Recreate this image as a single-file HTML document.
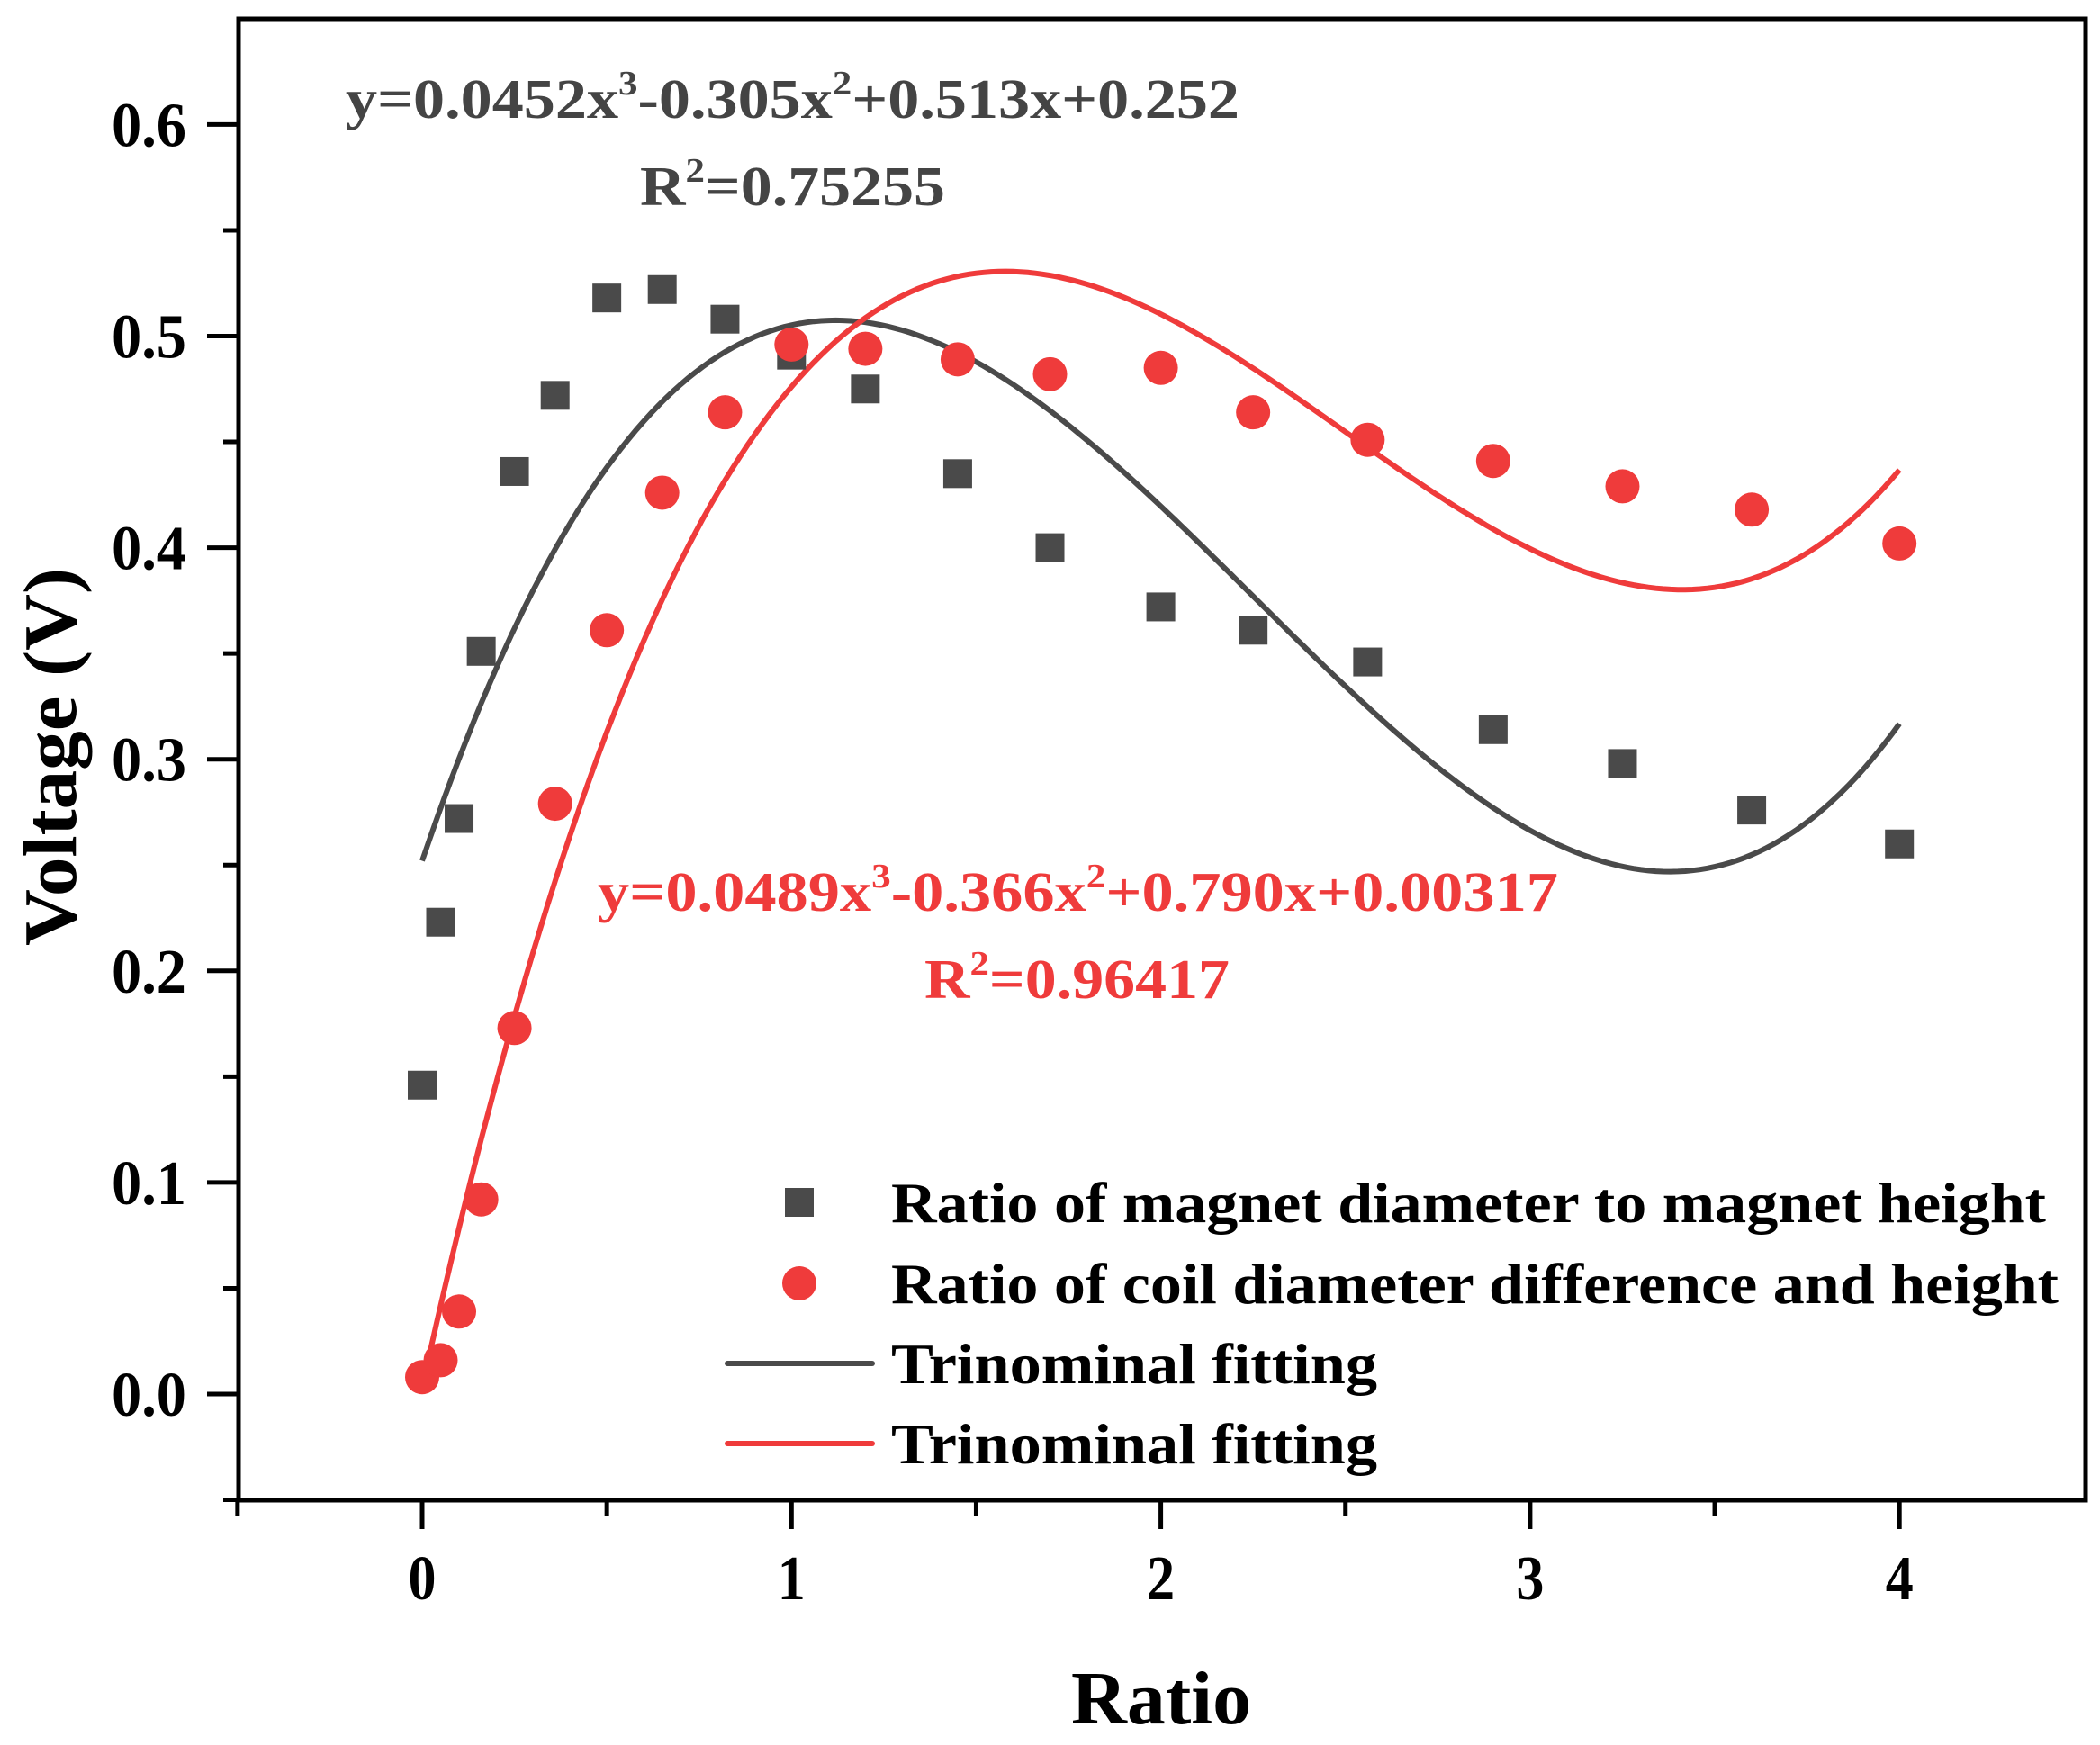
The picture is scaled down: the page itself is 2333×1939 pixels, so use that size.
<!DOCTYPE html>
<html><head><meta charset="utf-8"><style>
html,body{margin:0;padding:0;background:#fff;}
svg{display:block;font-family:"Liberation Serif",serif;font-weight:bold;}
</style></head><body>
<svg id="chart" width="2333" height="1939" viewBox="0 0 2333 1939" xmlns="http://www.w3.org/2000/svg">
<rect x="0" y="0" width="2333" height="1939" fill="#fff"/>
<g id="grid"></g>
<g id="curves"></g>
<g id="marks"></g>
<rect x="265" y="21" width="2052" height="1646" fill="none" stroke="#000" stroke-width="5"/>
<g id="axes"></g>
<text x="1290" y="1915" font-size="84" text-anchor="middle" textLength="200" lengthAdjust="spacingAndGlyphs">Ratio</text>
<text transform="translate(84,841) rotate(-90)" font-size="84" text-anchor="middle" textLength="420" lengthAdjust="spacingAndGlyphs">Voltage (V)</text>
<text x="384" y="131" font-size="62" fill="#444" textLength="993" lengthAdjust="spacingAndGlyphs">y=0.0452x<tspan font-size="38" dy="-26">3</tspan><tspan dy="26">-0.305x</tspan><tspan font-size="38" dy="-26">2</tspan><tspan dy="26">+0.513x+0.252</tspan></text>
<text x="711" y="228" font-size="62" fill="#444" textLength="339" lengthAdjust="spacingAndGlyphs">R<tspan font-size="38" dy="-26">2</tspan><tspan dy="26">=0.75255</tspan></text>
<text x="664" y="1012" font-size="62" fill="#ef3b3b" textLength="1067" lengthAdjust="spacingAndGlyphs">y=0.0489x<tspan font-size="38" dy="-26">3</tspan><tspan dy="26">-0.366x</tspan><tspan font-size="38" dy="-26">2</tspan><tspan dy="26">+0.790x+0.00317</tspan></text>
<text x="1027" y="1109" font-size="62" fill="#ef3b3b" textLength="339" lengthAdjust="spacingAndGlyphs">R<tspan font-size="38" dy="-26">2</tspan><tspan dy="26">=0.96417</tspan></text>
<g>
  <rect x="872" y="1320" width="32" height="32" fill="#4a4a4a"/>
  <text x="990" y="1358" font-size="64" textLength="1283" lengthAdjust="spacingAndGlyphs">Ratio of magnet diameter to magnet height</text>
  <circle cx="888" cy="1426" r="19" fill="#ef3b3b"/>
  <text x="990" y="1448" font-size="64" textLength="1297" lengthAdjust="spacingAndGlyphs">Ratio of coil diameter difference and height</text>
  <line x1="808" y1="1515" x2="969" y2="1515" stroke="#4a4a4a" stroke-width="6" stroke-linecap="round"/>
  <text x="990" y="1537" font-size="64" textLength="540" lengthAdjust="spacingAndGlyphs">Trinominal fitting</text>
  <line x1="808" y1="1604" x2="969" y2="1604" stroke="#ef3b3b" stroke-width="6" stroke-linecap="round"/>
  <text x="990" y="1626" font-size="64" textLength="540" lengthAdjust="spacingAndGlyphs">Trinominal fitting</text>
</g>
</svg>
<script>
const xValues = [0,0.05,0.1,0.16,0.25,0.36,0.5,0.65,0.82,1.0,1.2,1.45,1.7,2.0,2.25,2.56,2.9,3.25,3.6,4.0];
const magnetValues = [0.146,0.223,0.272,0.351,0.436,0.472,0.518,0.522,0.508,0.491,0.475,0.435,0.400,0.372,0.361,0.346,0.314,0.298,0.276,0.260];
const coilValues = [0.008,0.016,0.039,0.092,0.173,0.279,0.361,0.426,0.464,0.496,0.494,0.489,0.482,0.485,0.464,0.451,0.441,0.429,0.418,0.402];
const magnetFitCoef = [0.0452,-0.305,0.513,0.252];
const coilFitCoef = [0.0489,-0.366,0.790,0.00317];
const xTickLabels = ["0","1","2","3","4"];
const yTickLabels = ["0.0","0.1","0.2","0.3","0.4","0.5","0.6"];

const NS = "http://www.w3.org/2000/svg";
function sx(v){ return 469 + v*410.3; }
function sy(v){ return 1549 - v*2351; }
function mk(tag, attrs, parent){
  const e = document.createElementNS(NS, tag);
  for (const k in attrs) e.setAttribute(k, attrs[k]);
  parent.appendChild(e);
  return e;
}
const axes = document.getElementById('axes');
const marks = document.getElementById('marks');
const curves = document.getElementById('curves');

for (let i=0;i<=9;i++){
  const v = -0.5 + i*0.5;
  const major = Math.abs(v - Math.round(v))<1e-9;
  const t = mk('line',{x1:sx(v),x2:sx(v),y1:1667,y2:1667+(major?32:17),stroke:'#000','stroke-width':5},axes);
  
  
}
xTickLabels.forEach(function(l){
  const t = mk('text',{x:sx(parseFloat(l)),y:1777,'font-size':70,'text-anchor':'middle',textLength:31,lengthAdjust:'spacingAndGlyphs'},axes);
  t.textContent = l;
  
  
});
for (let i=0;i<=13;i++){
  const v = -0.05 + i*0.05;
  const major = i%2===1;
  const t = mk('line',{x1:265-(major?35:17),x2:265,y1:sy(v),y2:sy(v),stroke:'#000','stroke-width':5},axes);
  
  
}
yTickLabels.forEach(function(l){
  const t = mk('text',{x:207,y:sy(parseFloat(l))+24,'font-size':70,'text-anchor':'end',textLength:83,lengthAdjust:'spacingAndGlyphs'},axes);
  t.textContent = l;
  
  
});

function poly(c,x){ return c[0]*x*x*x + c[1]*x*x + c[2]*x + c[3]; }
function curve(c,color,name){
  let d = '';
  for (let i=0;i<=200;i++){
    const x = 4*i/200;
    d += (i?'L':'M') + sx(x).toFixed(1) + ',' + sy(poly(c,x)).toFixed(1);
  }
  const p = mk('path',{d:d,fill:'none',stroke:color,'stroke-width':6},curves);
  
  
}
curve(magnetFitCoef,'#4a4a4a','magnet-fit-curve');
curve(coilFitCoef,'#ef3b3b','coil-fit-curve');

xValues.forEach(function(x,i){
  const r = mk('rect',{x:sx(x)-16,y:sy(magnetValues[i])-16,width:32,height:32,fill:'#4a4a4a'},marks);
  
  
});
xValues.forEach(function(x,i){
  const c = mk('circle',{cx:sx(x),cy:sy(coilValues[i]),r:19,fill:'#ef3b3b'},marks);
  
  
});
</script>
</body></html>
